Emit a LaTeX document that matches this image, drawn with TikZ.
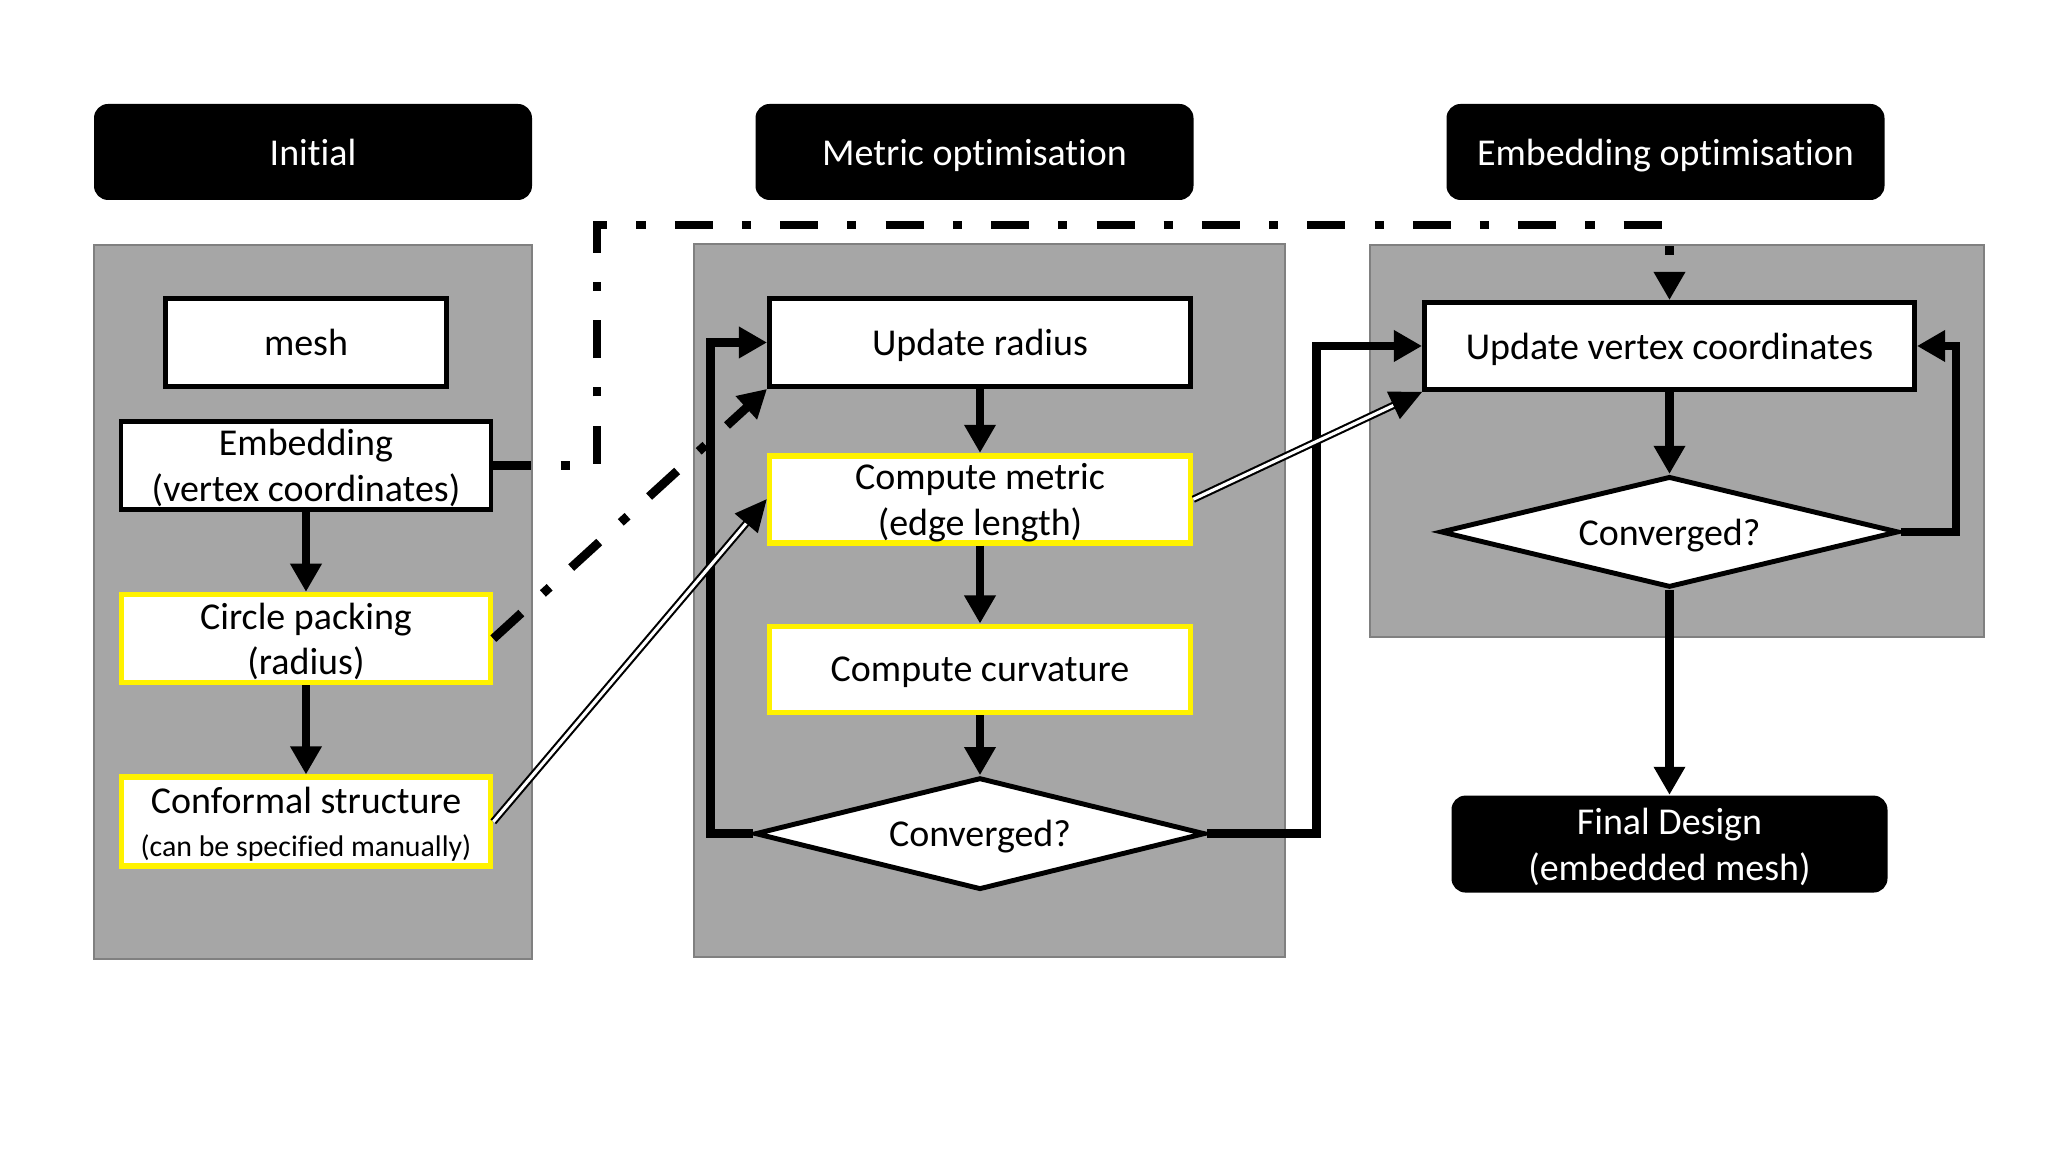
\documentclass[tikz,border=0pt]{standalone}
\usepackage{fontspec}
\setmainfont{Carlito}[Ligatures={NoCommon}]
\usetikzlibrary{
	arrows.meta,
	positioning,
	shapes.geometric
}

\begin{document}
\begin{tikzpicture}[
		font=\fontsize{10.8}{13}\selectfont,
		hdr/.style={fill=black, text=white, rounded corners=4pt, minimum width=4.38cm, minimum height=0.96cm, align=center, text depth=0pt},
		panel/.style={draw=black!50, fill=black!35, line width=0.6pt, inner sep=0pt},
		box/.style={draw, line width=1.4pt, fill=white, align=center, inner sep=1pt, minimum height=0.88cm, text depth=0pt},
		ybox/.style={box, draw=yellow, line width=1.6pt},
		decide/.style={draw, diamond, line width=1.4pt, fill=white, aspect=4, inner sep=0pt, minimum width=4.5cm, minimum height=1.12cm, text depth=0pt},
		arrow/.style={line width=2.4pt, -{Triangle[length=8pt,width=8.5pt]}},
		dashdot/.style={line width=2.5pt, dash pattern=on 10.8pt off 8.3pt on 2.6pt off 8.3pt},
		dbl/.style={double, double distance=0.9pt, line width=0.6pt, -{Triangle[length=9pt,width=8.5pt]}}
		]
		\useasboundingbox (0,0) rectangle (20.48,11.52);
		
		% =========================
		% Stage headers
		% =========================
		\node[hdr] (hinit) at (3.13,10.00) {Initial};
		\node[hdr] (hmetric) at (9.745,10.00) {Metric optimisation};
		\node[hdr] (hembed) at (16.655,10.00) {Embedding optimisation};
		
		% =========================
		% Grey panels
		% =========================
		\node[panel, minimum width=4.38cm, minimum height=7.14cm] (pinit) at (3.13,5.50) {};
		\node[panel, minimum width=5.91cm, minimum height=7.13cm] (pmetric) at (9.895,5.515) {};
		\node[panel, minimum width=6.14cm, minimum height=3.92cm] (pembed) at (16.77,7.11) {};
		
		% =========================
		% Initial stage
		% =========================
		\node[box, minimum width=2.81cm] (mesh) at (3.06,8.095) {mesh};
		\node[box, minimum width=3.70cm, below=0.3cm of mesh] (embed) {Embedding\\(vertex coordinates)};
		\node[ybox, minimum width=3.69cm, below=0.8cm of embed] (circ) {Circle packing\\(radius)};
		\node[ybox, minimum width=3.69cm, minimum height=0.89cm, below=0.89cm of circ] (conf) {Conformal structure\\[-1pt]{\fontsize{8.5}{10}\selectfont(can be specified manually)}};
		
		% =========================
		% Metric optimisation
		% =========================
		\node[box, minimum width=4.21cm] (updr) at (9.80,8.095) {Update radius};
		\node[ybox, minimum width=4.21cm, minimum height=0.87cm, below=0.64cm of updr] (cmetric) {Compute metric\\(edge length)};
		\node[ybox, minimum width=4.21cm, minimum height=0.86cm, below=0.78cm of cmetric] (ccurv) {Compute curvature};
		\node[decide, below=0.6cm of ccurv] (conv1) {Converged?};
		
		% =========================
		% Embedding optimisation
		% =========================
		\node[box, minimum width=4.90cm, minimum height=0.87cm] (updv) at (16.695,8.06) {Update vertex coordinates};
		\node[decide, minimum width=4.58cm, minimum height=1.11cm, below=0.82cm of updv] (conv2) {Converged?};
		\node[hdr, minimum width=4.36cm, minimum height=0.97cm, below=2.05cm of conv2] (final) {Final Design\\(embedded mesh)};
		
		% =========================
		% Arrows
		% =========================
		\draw[arrow] (embed) -- (circ);
		\draw[arrow] (circ) -- (conf);
		\draw[arrow] (updr) -- (cmetric);
		\draw[arrow] (cmetric) -- (ccurv);
		\draw[arrow] (ccurv) -- (conv1);
		\draw[arrow] (updv) -- (conv2);
		\draw[arrow] (conv2) -- (final);
		
		\draw[arrow] (conv1.west) -- ++(-0.42,0) |- (updr.west);
		\draw[arrow] (conv1.east) -- ++(1.09,0) |- (updv.west);
		\draw[arrow] (conv2.east) -- ++(0.55,0) |- (updv.east);
		
		\coordinate (dtop) at (5.97,9.27);
		\draw[dashdot, -{Triangle[length=8pt,width=8.5pt]}] (embed.east) -| (dtop) -| (updv.north);
		\draw[dashdot, -{Triangle[length=8pt,width=8.5pt]}] (circ.east) -- (updr.south west);
		
		\draw[dbl] (conf.east) -- (cmetric.west);
		\draw[dbl] (cmetric.east) -- (updv.south west);
		
	\end{tikzpicture}
\end{document}
